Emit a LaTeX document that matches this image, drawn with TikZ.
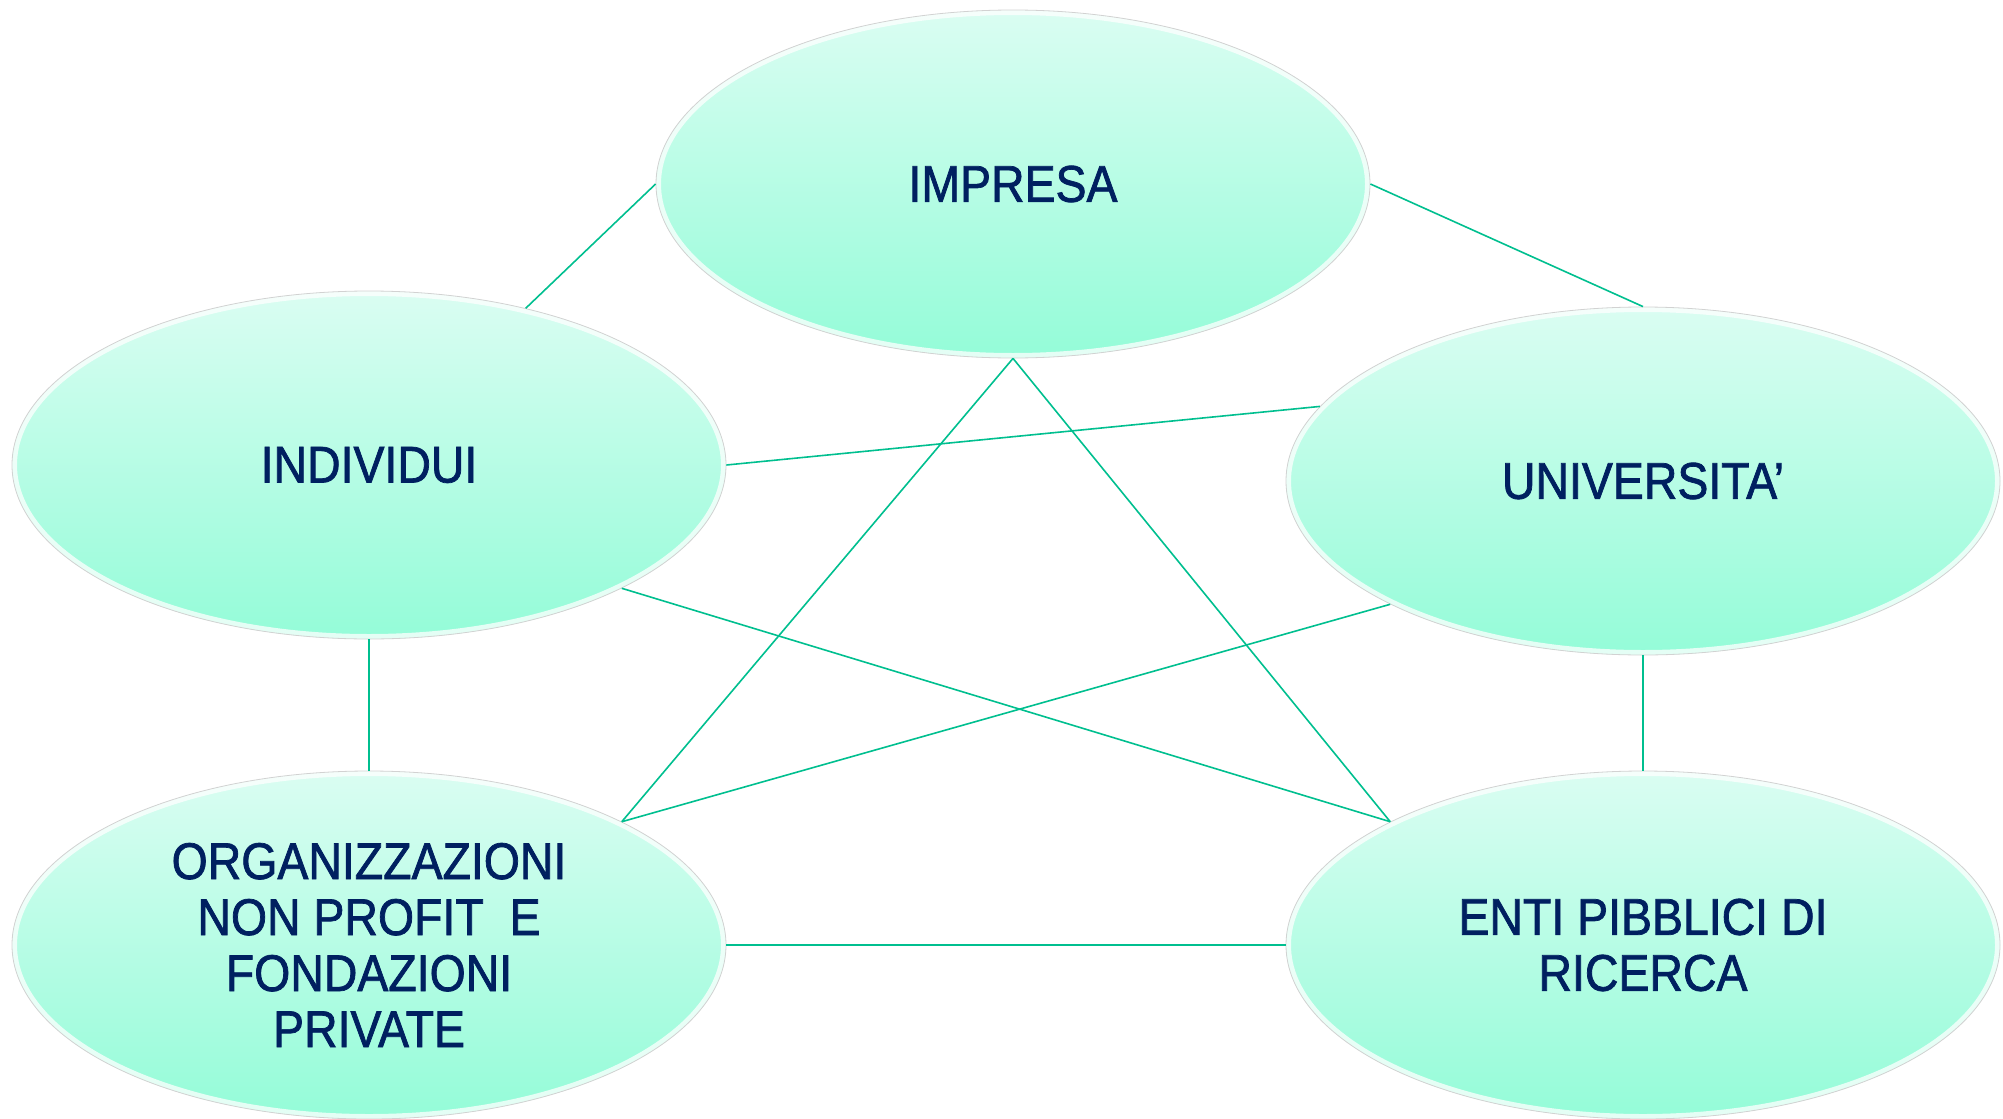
\documentclass[tikz,border=0pt]{standalone}
\usepackage{fontspec}
\setmainfont[FakeStretch=0.9,FakeBold=1.4]{Liberation Sans}
\usetikzlibrary{shapes.geometric}
\definecolor{navytext}{HTML}{002060}
\definecolor{linkgreen}{HTML}{00BF8F}
\definecolor{bubtop}{HTML}{DAFDF2}
\definecolor{bubbot}{HTML}{94FCD8}
\tikzset{
  bubble/.style={ellipse, minimum width=357pt, minimum height=174pt, inner sep=0pt,
    top color=bubtop, bottom color=bubbot, draw=gray!35, line width=0.4pt,
    text=navytext, align=center,
    font=\fontsize{25.8pt}{28pt}\selectfont,
    path picture={\draw[white, opacity=0.75, line width=5pt]
      (path picture bounding box.center) ellipse [x radius=178.5pt, y radius=87pt];}},
  link/.style={draw=linkgreen, line width=0.8pt}
}
\begin{document}
\begin{tikzpicture}[x=0.5pt, y=-0.5pt]
\useasboundingbox (0,0) rectangle (2003,1119);
\node[bubble] (imp) at (1013,184) {IMPRESA};
\node[bubble] (ind) at (369,465) {INDIVIDUI};
\node[bubble] (uni) at (1643,481) {UNIVERSITA’};
\node[bubble] (org) at (369,945) {ORGANIZZAZIONI\\NON PROFIT~ E\\FONDAZIONI\\PRIVATE};
\node[bubble] (enti) at (1643,945) {ENTI PIBBLICI DI\\RICERCA};
\draw[link] (imp.west) -- (ind.45);
\draw[link] (imp.east) -- (uni.north);
\draw[link] (imp.south) -- (org.26);
\draw[link] (imp.south) -- (enti.154);
\draw[link] (ind.east) -- (uni.167);
\draw[link] (ind.-26) -- (enti.154);
\draw[link] (uni.206) -- (org.26);
\draw[link] (ind.south) -- (org.north);
\draw[link] (uni.south) -- (enti.north);
\draw[link] (org.east) -- (enti.west);
\end{tikzpicture}
\end{document}
